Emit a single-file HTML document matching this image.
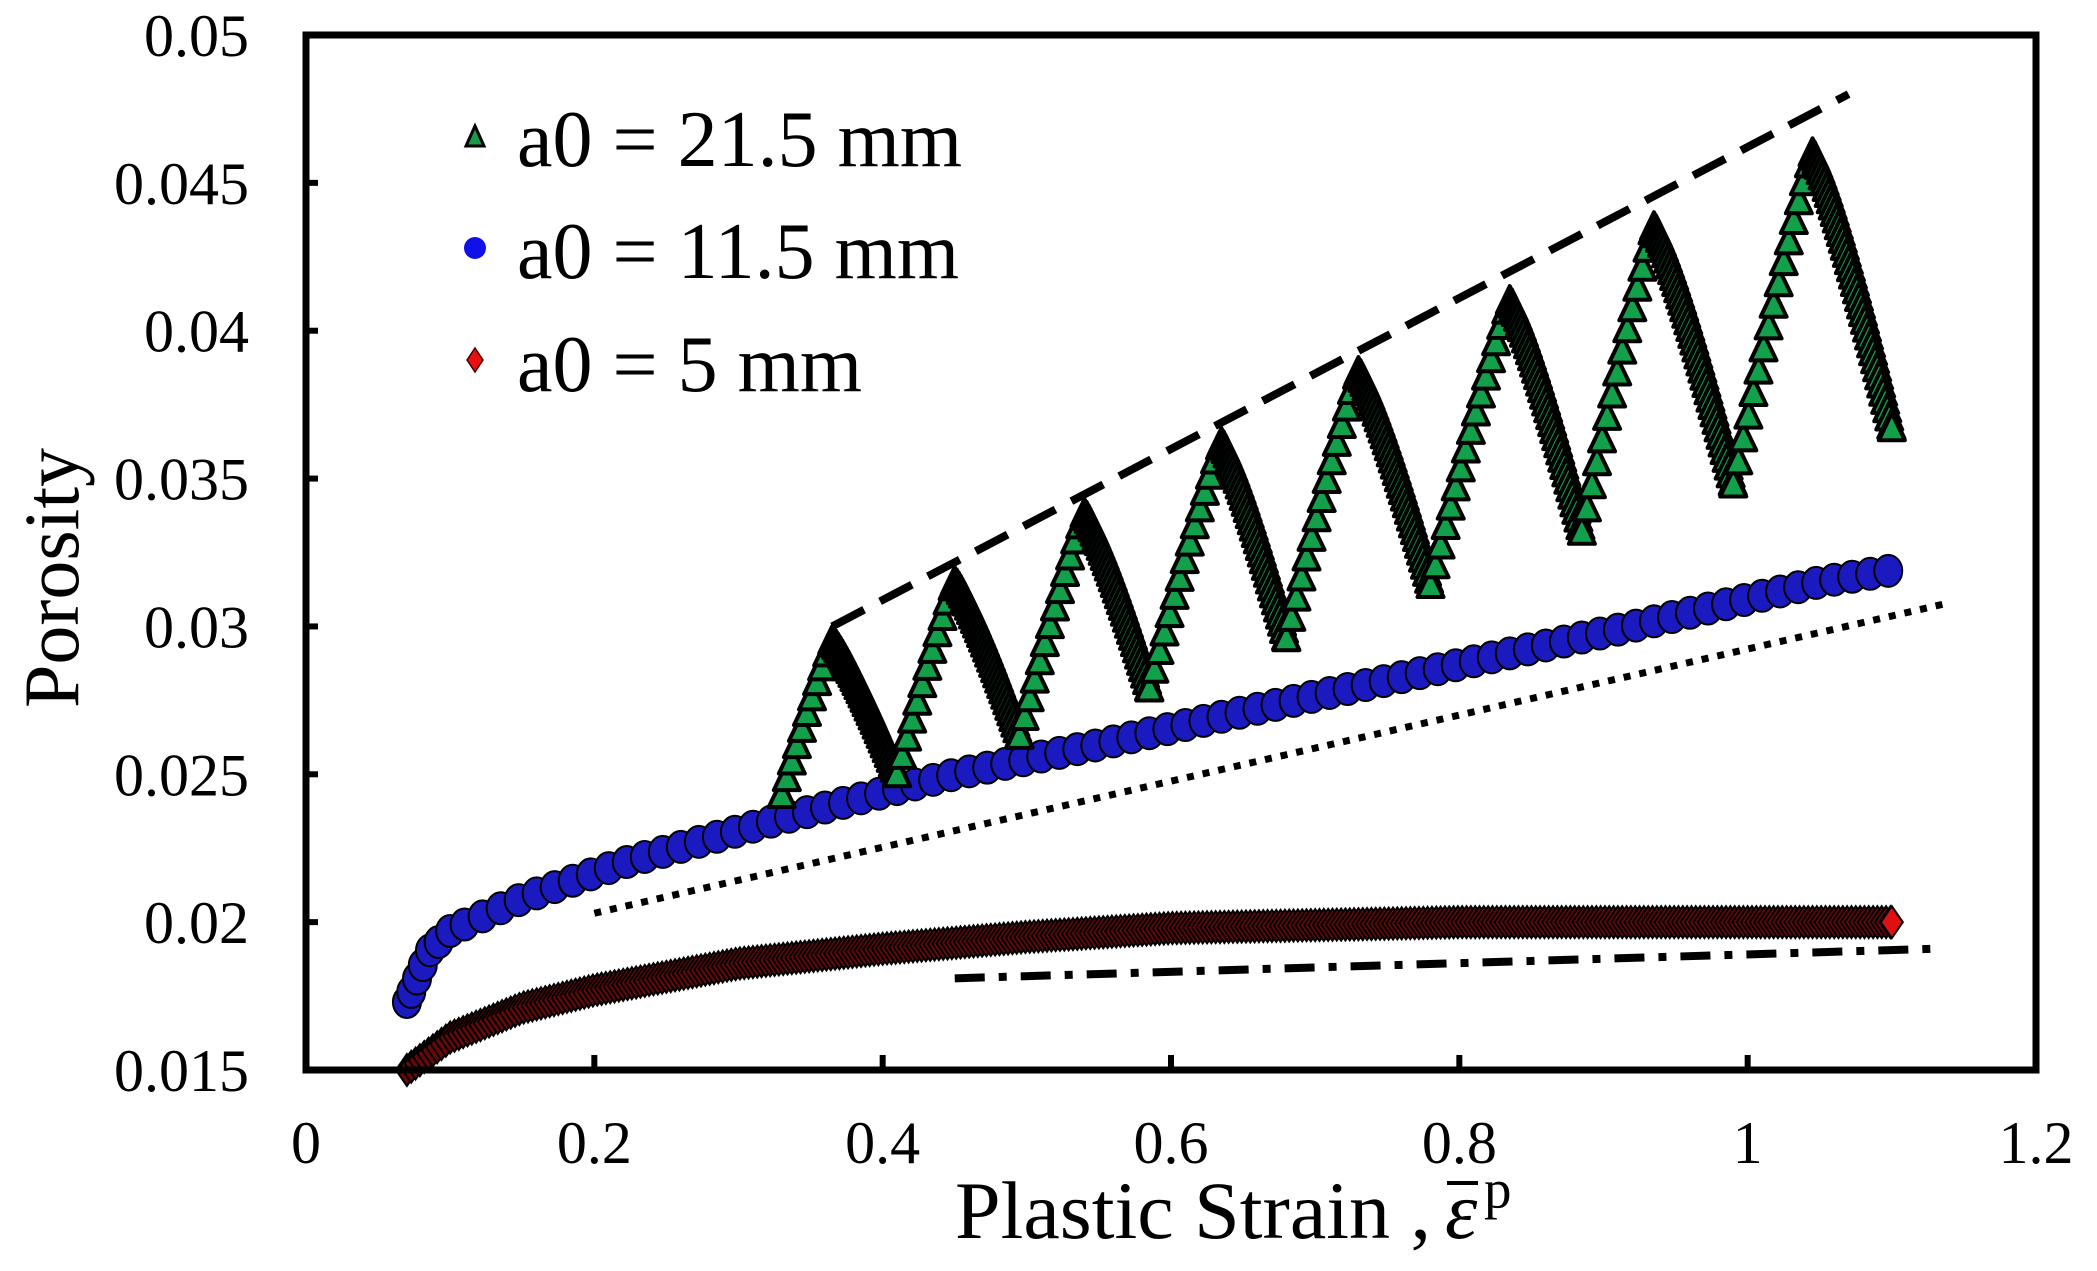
<!DOCTYPE html>
<html><head><meta charset="utf-8"><style>
html,body{margin:0;padding:0;background:#fff;}
svg{display:block;font-family:"Liberation Serif",serif;}
</style></head><body>
<svg id="s" width="2097" height="1271" viewBox="0 0 2097 1271" xmlns="http://www.w3.org/2000/svg">
<g id="data"></g>
<rect x="306" y="35" width="1730" height="1035" fill="none" stroke="#000" stroke-width="7"/>
<g id="ticks" stroke="#000" stroke-width="6"></g>
<g font-size="60" text-anchor="end" id="yl"></g>
<g font-size="60" text-anchor="middle" id="xl"></g>
<text x="955" y="1238" font-size="82">Plastic Strain  ,</text>
<text x="1445" y="1238" font-size="82" font-style="italic">ε</text>
<line x1="1447" y1="1183" x2="1478" y2="1183" stroke="#000" stroke-width="4"/>
<text x="1484" y="1208" font-size="55">p</text>
<text transform="translate(78,578) rotate(-90)" font-size="78" text-anchor="middle">Porosity</text>
<g font-size="80">
<polygon points="475,126 466,146 484,146" fill="#1a9a4a" stroke="#000" stroke-width="3"/>
<text x="517" y="166">a0 = 21.5 mm</text>
<circle cx="475" cy="248" r="11" fill="#1010e8"/>
<text x="517" y="278">a0 = 11.5 mm</text>
<polygon points="475,348 483,360 475,372 467,360" fill="#e81010" stroke="#400" stroke-width="1.5"/>
<text x="517" y="391">a0 = 5 mm</text>
</g>
</svg>
<script>
var L=306,R=2036,T=35,B=1070;
function X(v){return L+v/1.2*(R-L);}
function Y(v){return B-(v-0.015)/0.035*(B-T);}
var s="";
var tk="",yl="",xl="";
for(var i=0;i<=7;i++){var v=0.015+i*0.005,y=Y(v);
 if(i>0&&i<7)tk+='<line x1="'+L+'" y1="'+y+'" x2="'+(L+12)+'" y2="'+y+'"/>';
 yl+='<text x="249" y="'+(y+21)+'">'+(+v.toFixed(3))+'</text>';}
for(var i=0;i<=6;i++){var v=i*0.2,x=X(v);
 if(i>0&&i<6)tk+='<line x1="'+x+'" y1="'+B+'" x2="'+x+'" y2="'+(B-15)+'"/>';
 xl+='<text x="'+x+'" y="'+1163+'">'+(+v.toFixed(1))+'</text>';}
document.getElementById('ticks').innerHTML=tk;
document.getElementById('yl').innerHTML=yl;
document.getElementById('xl').innerHTML=xl;
function interp(pts,x){for(var i=0;i<pts.length-1;i++){if(x<=pts[i+1][0]){var a=pts[i],b=pts[i+1],t=(x-a[0])/(b[0]-a[0]);return a[1]+t*(b[1]-a[1]);}}return pts[pts.length-1][1];}
var red=[[0.07,0.015],[0.1,0.0161],[0.15,0.0171],[0.2,0.0177],[0.3,0.0186],[0.4,0.0191],[0.5,0.0195],[0.6,0.0198],[0.8,0.02],[1.1,0.02]];
for(var x=0.07;x<=1.1;x+=0.003){var cx=X(x),cy=Y(interp(red,x));
 s+='<polygon points="'+cx+','+(cy-16)+' '+(cx+11)+','+cy+' '+cx+','+(cy+16)+' '+(cx-11)+','+cy+'" fill="#6a0808" stroke="#000" stroke-width="2"/>';}
s+='<polygon points="'+X(1.1)+','+(Y(0.02)-16)+' '+(X(1.1)+11)+','+Y(0.02)+' '+X(1.1)+','+(Y(0.02)+16)+' '+(X(1.1)-11)+','+Y(0.02)+'" fill="#e01010" stroke="#000" stroke-width="2"/>';
var blue=[[0.07,0.0173],[0.085,0.019],[0.1,0.0197],[0.15,0.0208],[0.22,0.022],[0.33,0.0235],[0.45,0.025],[0.55,0.026],[0.64,0.027],[0.78,0.0285],[0.92,0.03],[1.05,0.0315],[1.1,0.0319]];
var bx=[0.07,0.073,0.077,0.081,0.086,0.092,0.1];
for(var x=0.11;x<=1.1;x+=0.0125)bx.push(x);
bx.forEach(function(x){var cx=X(x),cy=Y(interp(blue,x));
 s+='<ellipse cx="'+cx+'" cy="'+cy+'" rx="14" ry="16" fill="#1a1ac0" stroke="#000" stroke-width="2"/>';});
var g=[[0.33,0.0243],[0.365,0.0295],[0.41,0.025],[0.45,0.0315],[0.495,0.0263],[0.54,0.0338],[0.585,0.0279],[0.635,0.0362],[0.68,0.0296],[0.73,0.0386],[0.78,0.0314],[0.835,0.041],[0.885,0.0332],[0.935,0.0435],[0.99,0.0348],[1.045,0.046],[1.1,0.0367]];
var pts=[];
for(var i=0;i<g.length-1;i++){var a=g[i],b=g[i+1],up=b[1]>a[1];
 if(up){for(var x=a[0];x<b[0];x+=0.0035){var t=(x-a[0])/(b[0]-a[0]);pts.push([x,a[1]+(b[1]-a[1])*(1-Math.pow(1-t,1.1))]);}}
 else{for(var x=a[0];x<b[0];x+=0.0014){var t=(x-a[0])/(b[0]-a[0]);pts.push([x,a[1]+(b[1]-a[1])*Math.pow(t,1.2)]);}}}
pts.push([1.1,0.0367]);
pts.forEach(function(p){var cx=X(p[0]),cy=Y(p[1]);
 s+='<polygon points="'+cx+','+(cy-15)+' '+(cx+13)+','+(cy+12)+' '+(cx-13)+','+(cy+12)+'" fill="#12a04a" stroke="#000" stroke-width="4" stroke-linejoin="round"/>';});
s+='<line x1="'+X(0.365)+'" y1="'+Y(0.030)+'" x2="'+X(1.07)+'" y2="'+Y(0.048)+'" stroke="#000" stroke-width="8" stroke-dasharray="36,18"/>';
s+='<line x1="'+X(0.2)+'" y1="'+Y(0.0203)+'" x2="'+X(1.14)+'" y2="'+Y(0.0308)+'" stroke="#000" stroke-width="7" stroke-dasharray="7,9"/>';
s+='<line x1="'+X(0.45)+'" y1="'+Y(0.0181)+'" x2="'+X(1.13)+'" y2="'+Y(0.0191)+'" stroke="#000" stroke-width="8" stroke-dasharray="30,14,8,14"/>';
document.getElementById('data').innerHTML=s;
</script>
</body></html>
